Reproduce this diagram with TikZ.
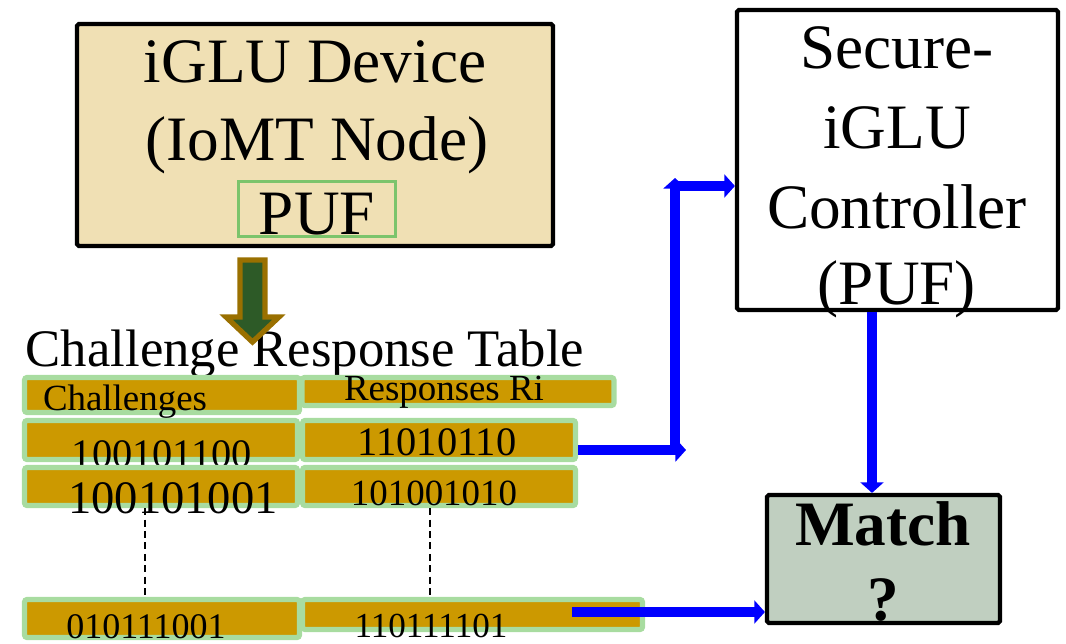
\documentclass[tikz,border=0pt]{standalone}
\usepackage{fontspec}
\setmainfont{Liberation Serif}
\usepackage{tikz}
\usetikzlibrary{positioning,arrows.meta}
\usepackage{xcolor}
\definecolor{devfill}{HTML}{F0E0B4}
\definecolor{pufgreen}{HTML}{7CC46C}
\definecolor{cellfill}{HTML}{CC9900}
\definecolor{cellline}{HTML}{A8DCA0}
\definecolor{downfill}{HTML}{2D5A27}
\definecolor{downline}{HTML}{9A7000}
\definecolor{matchfill}{HTML}{C0CFC0}

\begin{document}
\begin{tikzpicture}[x=0.02cm,y=-0.02cm,>={Triangle[length=6pt,width=13pt]},
  box/.style={draw,line width=2.4pt,rounded corners=1pt,inner sep=0pt},
  cell/.style={draw=cellline,fill=cellfill,line width=3pt,rounded corners=1.5pt,inner sep=0pt,minimum height=0.78cm},
  big/.style={font=\fontsize{36}{40}\selectfont,anchor=base,inner sep=0pt},
  txt/.style={anchor=base,inner sep=0pt},
  link/.style={->,blue,line width=5.5pt}]
\useasboundingbox (0,0) rectangle (1066,643);
% device
\node[box,fill=devfill,minimum width=9.52cm,minimum height=4.44cm] (dev) at (315,135) {};
\node[big] (devname) at (315,82) {iGLU Device};
\node[big] (devrole) at (317,160) {(IoMT Node)};
\node[draw=pufgreen,line width=1.7pt,inner sep=0pt,minimum width=3.14cm,minimum height=1.1cm] (puf) at (317,209) {};
\node[big] (puftxt) at (317,234) {PUF};
% table
\node[txt,font=\fontsize{30}{32}\selectfont] (crt) at (305,366) {Challenge Response Table};
\draw[draw=downline,fill=downfill,line width=3pt,line join=miter]
  (240,260) -- (265,260) -- (265,317) -- (279,317) -- (252.5,342) -- (226,317) -- (240,317) -- cycle;
\node[cell,minimum width=5.5cm,minimum height=0.7cm] (hc) at (162,395) {};
\node[cell,minimum width=6.24cm,minimum height=0.56cm] (hr) at (458,391.5) {};
\node[txt,font=\fontsize{21}{24}\selectfont] (hctxt) at (125,410) {Challenges};
\node[txt,font=\fontsize{21}{24}\selectfont] (hrtxt) at (444,400) {Responses Ri};
\node[cell,minimum width=5.46cm] (c1) at (161,440) {};
\node[cell,minimum width=5.46cm] (r1) at (439,440) {};
\node[txt,font=\fontsize{23}{26}\selectfont] (c1txt) at (162,467) {100101100};
\node[txt,font=\fontsize{23}{26}\selectfont] (r1txt) at (437,455) {11010110};
\node[cell,minimum width=5.46cm,minimum height=0.76cm] (c2) at (161,486.5) {};
\node[cell,minimum width=5.46cm,minimum height=0.76cm] (r2) at (439,486.5) {};
\node[txt,font=\fontsize{26.5}{28}\selectfont] (c2txt) at (173,513) {100101001};
\node[txt,font=\fontsize{21}{24}\selectfont] (r2txt) at (434,505) {101001010};
\node[cell,minimum width=5.5cm,minimum height=0.76cm] (cn) at (162,618.5) {};
\node[cell,minimum width=6.8cm,minimum height=0.6cm] (rn) at (472.5,614.5) {};
\node[txt,font=\fontsize{20.5}{24}\selectfont] (cntxt) at (146,638) {010111001};
\node[txt,font=\fontsize{20}{24}\selectfont] (rntxt) at (431,637) {110111101};
\draw[dash pattern=on 4pt off 2.5pt,line width=0.6pt] (c2.south -| 145,0) -- (cn.north -| 145,0);
\draw[dash pattern=on 4pt off 2.5pt,line width=0.6pt] (r2.south -| 430,0) -- (rn.north -| 430,0);
% controller
\node[box,fill=white,minimum width=6.42cm,minimum height=6cm] (sec) at (897.5,160) {};
\node[big] (sec1) at (897,68) {Secure-};
\node[big] (sec2) at (897,148) {iGLU};
\node[big] (sec3) at (897,228) {Controller};
\node[big] (sec4) at (897,304) {(PUF)};
% match
\node[box,fill=matchfill,minimum width=4.66cm,minimum height=2.56cm] (match) at (883.5,559) {};
\node[big,font=\fontsize{36}{40}\selectfont\bfseries] (matchtxt) at (883,545) {Match};
\node[big,font=\fontsize{36}{40}\selectfont\bfseries] (qtxt) at (883,620) {?};
% links
\coordinate (j1) at (686,450);
\coordinate (j2) at (675,455);
\coordinate (j3) at (675,178);
\coordinate (j4) at (675,186);
\coordinate (s1) at (872,0);
\coordinate (s2) at (572,612);
\draw[link] (r1.east |- j1) -- (j1);
\draw[link] (j2) -- (j3);
\draw[link] (j4) -- (sec.west |- j4);
\draw[link] (sec.south -| s1) -- (match.north -| s1);
\draw[link] (s2) -- (match.west |- s2);
\end{tikzpicture}
\end{document}
